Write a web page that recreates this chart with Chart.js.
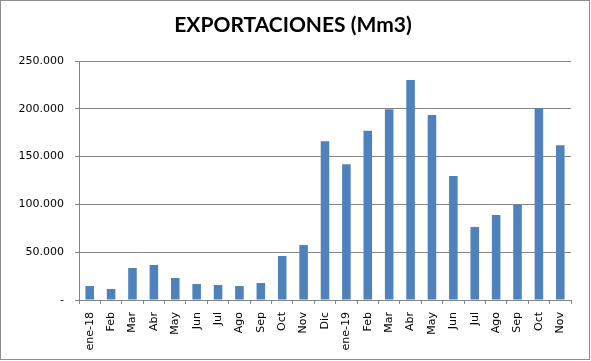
<!DOCTYPE html>
<html>
<head>
<meta charset="utf-8">
<script src="https://cdn.jsdelivr.net/npm/chart.js@4.4.1/dist/chart.umd.min.js"></script>
<style>
  html, body { margin: 0; padding: 0; background: #fff; }
  #wrap { width: 591px; height: 361px; }
</style>
</head>
<body>
<div id="wrap"><canvas id="grafico" width="591" height="361"></canvas></div>
<script>
// meses (eje x)
var meses = ['ene-18', 'Feb', 'Mar', 'Abr', 'May', 'Jun', 'Jul', 'Ago', 'Sep', 'Oct', 'Nov', 'Dic',
             'ene-19', 'Feb', 'Mar', 'Abr', 'May', 'Jun', 'Jul', 'Ago', 'Sep', 'Oct', 'Nov'];
// exportaciones en Mm3
var exportaciones = [14600, 11500, 33500, 36600, 23000, 16700, 15700, 14600, 17800, 46000, 57500, 166000,
                     142000, 177000, 199500, 230000, 193500, 129700, 76400, 88900, 100000, 200800, 162000];
var ticksY = [0, 50000, 100000, 150000, 200000, 250000];

function formatoMiles(v) {
    if (v === 0) return '-';
    return String(v).replace(/\B(?=(\d{3})+(?!\d))/g, '.');
}

// marco gris alrededor del grafico
var marco = {
    id: 'marco',
    beforeDraw: function (chart) {
        var c = chart.ctx;
        c.save();
        c.fillStyle = '#fff';
        c.fillRect(0, 0, chart.width, chart.height);
        c.strokeStyle = '#8c8c8c';
        c.lineWidth = 1;
        c.strokeRect(0.5, 0.5, chart.width - 2, chart.height - 2);
        c.restore();
    }
};

var ctx = document.getElementById('grafico').getContext('2d');
new Chart(ctx, {
    type: 'bar',
    data: {
        labels: meses,
        datasets: [{
            data: exportaciones,
            backgroundColor: '#4f81bd',
            barPercentage: 0.4,
            categoryPercentage: 1.0
        }]
    },
    options: {
        responsive: false,
        animation: false,
        layout: { padding: { left: 0, right: 5, top: 0, bottom: 0 } },
        plugins: {
            legend: { display: false },
            tooltip: { enabled: false },
            title: {
                display: true,
                text: 'EXPORTACIONES (Mm3)',
                color: '#000',
                font: { family: 'Lato', size: 21, weight: 'bold', lineHeight: 1.2 },
                padding: { top: 13, bottom: 22.8 }
            }
        },
        scales: {
            x: {
                grid: {
                    offset: true,
                    drawOnChartArea: false,
                    drawTicks: true,
                    tickLength: 4,
                    color: '#868686'
                },
                border: { color: '#868686' },
                ticks: {
                    maxRotation: 90,
                    minRotation: 90,
                    autoSkip: false,
                    padding: 8,
                    color: '#000',
                    font: { family: "'DejaVu Sans'", size: 11 }
                },
                afterFit: function (scale) { scale.height = 61; }
            },
            y: {
                min: 0,
                max: 250000,
                afterBuildTicks: function (scale) {
                    scale.ticks = ticksY.map(function (v) { return { value: v }; });
                },
                grid: {
                    color: '#868686',
                    tickLength: 4
                },
                border: { color: '#868686' },
                ticks: {
                    padding: 11,
                    color: '#000',
                    font: { family: "'DejaVu Sans'", size: 11 },
                    callback: function (v) { return formatoMiles(v); }
                },
                afterFit: function (scale) { scale.width = 79; }
            },
            // eje vacio a la derecha, solo para dejar margen
            margen: {
                axis: 'y',
                position: 'right',
                min: 0,
                max: 250000,
                grid: { display: false },
                border: { display: false },
                ticks: { display: false },
                afterFit: function (scale) { scale.width = 15; }
            }
        }
    },
    plugins: [marco]
});
</script>
</body>
</html>
